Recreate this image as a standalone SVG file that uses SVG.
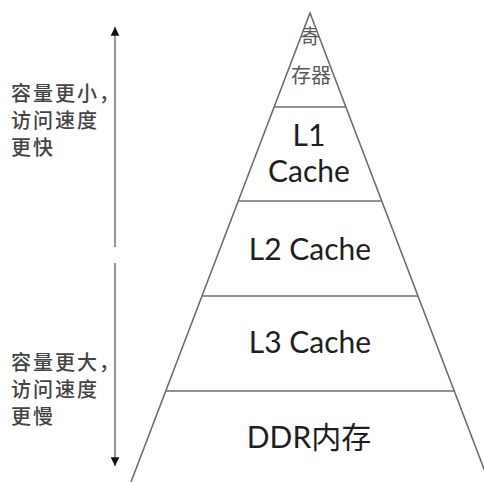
<svg xmlns="http://www.w3.org/2000/svg" width="484" height="482" viewBox="0 0 484 482">
<style>
.edge{stroke:#6e6e6e;stroke-width:1.6;fill:none}
.lvl{font-family:Lato,"Noto Sans CJK SC",sans-serif;font-size:30px;fill:#1e1e1e;text-anchor:middle}
.side{font-family:"Noto Sans CJK SC",sans-serif;font-size:20px;font-weight:500;fill:#444;letter-spacing:2px}
.top{font-family:"Noto Sans CJK SC",sans-serif;font-size:20px;fill:#5a5a5a;text-anchor:middle}
.arr{stroke:#9a9a9a;stroke-width:2.2;fill:none}
</style>
<defs>
<marker id="ah" viewBox="0 0 10 10" refX="10" refY="5" markerWidth="4" markerHeight="4.5" orient="auto" markerUnits="strokeWidth">
<path d="M0,0 L10,5 L0,10 Z" fill="#111"/>
</marker>
<clipPath id="tri"><polygon points="310,13 131,482 489,482"/></clipPath>
</defs>
<rect width="484" height="482" fill="#fff"/>
<g id="connectors">
<line class="arr" x1="115" y1="247" x2="115" y2="27" marker-end="url(#ah)"/>
<line class="arr" x1="115" y1="263" x2="115" y2="466" marker-end="url(#ah)"/>
</g>
<g id="pyramid">
<polyline class="edge" points="131,482 310,13 489,482"/>
<line class="edge" x1="274.2" y1="107" x2="345.8" y2="107"/>
<line class="edge" x1="238.4" y1="201" x2="381.6" y2="201"/>
<line class="edge" x1="202.2" y1="296" x2="417.8" y2="296"/>
<line class="edge" x1="166" y1="391" x2="454" y2="391"/>
</g>
<g id="reg">
<g clip-path="url(#tri)"><text class="top" x="310" y="44">寄</text></g>
<text class="top" x="311" y="83">存器</text>
</g>
<g id="l1">
<text class="lvl" x="309" y="145.5">L1</text>
<text class="lvl" x="309" y="182">Cache</text>
</g>
<g id="l2"><text class="lvl" x="310" y="260">L2 Cache</text></g>
<g id="l3"><text class="lvl" x="310" y="353">L3 Cache</text></g>
<g id="ddr"><text class="lvl" x="309" y="448">DDR内存</text></g>
<g id="fast">
<text class="side" x="11" y="101">容量更小，</text>
<text class="side" x="11" y="128">访问速度</text>
<text class="side" x="11" y="155">更快</text>
</g>
<g id="slow">
<text class="side" x="11" y="370">容量更大，</text>
<text class="side" x="11" y="397">访问速度</text>
<text class="side" x="11" y="424">更慢</text>
</g>
</svg>
